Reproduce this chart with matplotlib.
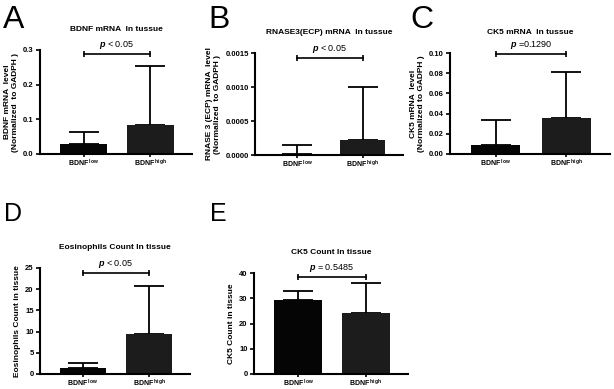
import matplotlib.pyplot as plt

plt.rcParams['font.family'] = ['Liberation Sans', 'DejaVu Sans']
plt.rcParams['font.weight'] = 'bold'
plt.rcParams['mathtext.fontset'] = 'custom'
plt.rcParams['mathtext.rm'] = 'Liberation Sans:bold'
plt.rcParams['mathtext.it'] = 'Liberation Sans:italic'

# ---------------- DATOS ----------------
grupos = ["BDNF$^{\\mathrm{\\ low}}$", "BDNF$^{\\mathrm{\\ high}}$"]
letras = ["A", "B", "C", "D", "E"]
titulos = ["BDNF mRNA  In tussue", "RNASE3(ECP) mRNA  In tussue", "CK5 mRNA  In tussue",
           "Eosinophils Count In tissue", "CK5 Count In tissue"]
ylabels = ["BDNF mRNA  level\n(Normalized  to GADPH )",
           "RNASE 3 (ECP) mRNA  level\n(Normalized  to GADPH )",
           "CK5 mRNA  level\n(Normalized to GADPH )",
           "Eosinophils Count in tissue",
           "CK5 Count in tissue"]
medias = [[0.030, 0.085], [0.00002, 0.00022], [0.009, 0.036], [1.5, 9.5], [29.5, 24.0]]
errores = [[0.033, 0.170], [0.00013, 0.00078], [0.0245, 0.045], [1.2, 11.2], [3.5, 12.0]]
p_textos = ["$p$ < 0.05", "$p$ < 0.05", "$p$ =0.1290", "$p$ < 0.05", "$p$ = 0.5485"]
yticks = [[0, 0.1, 0.2, 0.3], [0, 0.0005, 0.0010, 0.0015], [0, 0.02, 0.04, 0.06, 0.08, 0.10],
          [0, 5, 10, 15, 20, 25], [0, 10, 20, 30, 40]]
yticklabels = [["0.0", "0.1", "0.2", "0.3"], ["0.0000", "0.0005", "0.0010", "0.0015"],
               ["0.00", "0.02", "0.04", "0.06", "0.08", "0.10"],
               ["0", "5", "10", "15", "20", "25"], ["0", "10", "20", "30", "40"]]
ymax = [0.3, 0.0015, 0.10, 25, 40]
y_barra = [0.289, 0.00143, 0.099, 23.9, 38.5]
colores = ["#050505", "#1c1c1c"]

# ---------------- LAYOUT (pixeles) ----------------
W, H = 614, 389
cajas = [(40, 192, 50, 154), (255, 403, 53, 155), (450, 610, 53, 154),
         (40, 190, 268, 374), (254, 408, 273, 374)]
pos_letras = [(3, 20, 23), (208, 20, 23), (410, 20, 23), (4, 214, 18), (210, 214, 18)]

fig = plt.figure(figsize=(W / 100, H / 100), dpi=100)

for i in range(5):
    l, r, t, b = cajas[i]
    ax = fig.add_axes([l / W, (H - b) / H, (r - l) / W, (b - t) / H])
    ax.bar([0, 1], medias[i], width=0.7, color=colores, zorder=2)
    ax.errorbar([0, 1], medias[i], yerr=[[0, 0], errores[i]], fmt='none',
                ecolor='black', elinewidth=1.3, capsize=11, capthick=1.3, zorder=1)
    ax.set_xlim(-0.65, 1.62)
    ax.set_ylim(0, ymax[i])
    ax.set_xticks([0, 1])
    ax.set_xticklabels(grupos, fontsize=5, fontweight='bold')
    ax.set_yticks(yticks[i])
    ax.set_yticklabels(yticklabels[i], fontsize=5.5, fontweight='bold')
    ax.tick_params(axis='y', length=3, width=1.2, pad=1.5)
    ax.tick_params(axis='x', length=2, width=1.2, pad=1)
    for s in ['top', 'right']:
        ax.spines[s].set_visible(False)
    for s in ['left', 'bottom']:
        ax.spines[s].set_linewidth(1.5)
    ax.set_title(titulos[i], fontsize=6, fontweight='bold', pad=14)
    ax.set_ylabel(ylabels[i], fontsize=6, fontweight='bold', labelpad=3)

    # barra de significancia
    yb = y_barra[i]
    ax.plot([0, 1], [yb, yb], color='black', lw=1.2, clip_on=False)
    ax.plot([0, 1], [yb, yb], ls='none', marker='|', ms=5, mew=1.2,
            color='black', clip_on=False)
    ax.text(0.5, yb + ymax[i] * 0.025, p_textos[i], ha='center', va='bottom',
            fontsize=6.5, fontweight='normal')

    px, py, fs = pos_letras[i]
    fig.text(px / W, 1 - py / H, letras[i], fontsize=fs, fontweight='normal',
             va='center', ha='left')

plt.savefig("out.png", dpi=100)
